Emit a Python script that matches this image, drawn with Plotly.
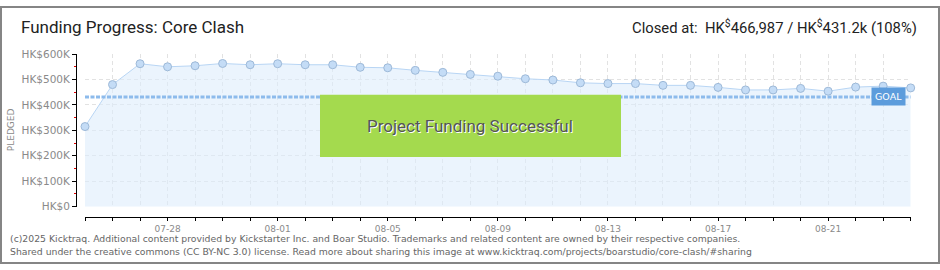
import pandas as pd
import plotly.graph_objects as go

# ---- data ----
dates = pd.date_range("2025-07-25", "2025-08-24", freq="D").strftime("%Y-%m-%d").tolist()
pledged = [315000, 480000, 562000, 550000, 554000, 563000, 558000, 562000, 558000, 558000,
           548000, 546000, 536000, 528000, 520000, 513000, 503000, 498000, 487000, 484000,
           484000, 477000, 477000, 469000, 459000, 459000, 465000, 454000, 470000, 474000,
           466987]
goal = 431200
x_tick_labels = ["07-28", "08-01", "08-05", "08-09", "08-13", "08-17", "08-21"]
y_tick_vals = [0, 100000, 200000, 300000, 400000, 500000, 600000]
y_tick_labels = ["HK$0", "HK$100K", "HK$200K", "HK$300K", "HK$400K", "HK$500K", "HK$600K"]
title_text = "Funding Progress: Core Clash"
closed_text = "Closed at:  HK<sup>$</sup>466,987 / HK<sup>$</sup>431.2k (108%)"

W, H = 940, 270
def px(x):
    return x / W
def py(y):
    return (H - y) / H

x_tick_vals = [d for d in dates if d[5:] in x_tick_labels]
x_tick_text = [d[5:] for d in x_tick_vals]

fig = go.Figure()

# pledged area + line
fig.add_trace(go.Scatter(
    x=dates, y=pledged, mode="lines+markers",
    line=dict(color="#b8d5f4", width=1),
    fill="tozeroy", fillcolor="rgba(222,236,251,0.6)",
    marker=dict(size=8, color="#c4dcf6", line=dict(color="#9db9d8", width=1)),
    cliponaxis=False, hoverinfo="skip", showlegend=False,
))

# goal line
fig.add_trace(go.Scatter(
    x=[dates[0], dates[-1]], y=[goal, goal], mode="lines",
    line=dict(color="#8dbbec", width=3, dash="4px,1.5px"),
    hoverinfo="skip", showlegend=False,
))

grid_style = dict(gridcolor="#e2e2e2", griddash="4px,3px", gridwidth=1)

fig.update_layout(
    width=W, height=H,
    margin=dict(l=0, r=0, t=0, b=0),
    paper_bgcolor="white", plot_bgcolor="white",
    xaxis=dict(
        type="date",
        domain=[px(85), px(910.7)],
        range=[dates[0], dates[-1]],
        anchor="free", position=py(220.7),
        tickmode="array", tickvals=x_tick_vals, ticktext=x_tick_text,
        ticks="outside", ticklen=3, tickcolor="#000", tickwidth=1,
        minor=dict(ticks="outside", ticklen=3, tickcolor="#000", tickwidth=1,
                   dtick=86400000, tick0=dates[0], showgrid=True, **grid_style),
        showline=True, linecolor="#000", linewidth=1,
        showgrid=True, **grid_style,
        zeroline=False, tickfont=dict(family="DejaVu Sans", size=9, color="#8a8a8a"),
    ),
    yaxis=dict(
        domain=[py(210), py(50.3)],
        range=[0, 600000],
        anchor="free", position=px(76),
        tickmode="array", tickvals=y_tick_vals, ticktext=y_tick_labels,
        ticks="outside", ticklen=4, tickcolor="#000", tickwidth=1,
        minor=dict(ticks="outside", ticklen=2, tickcolor="#e00000", dtick=50000, showgrid=False),
        showline=True, linecolor="#000", linewidth=1,
        showgrid=True, **grid_style,
        zeroline=False, tickfont=dict(family="DejaVu Sans", size=10.5, color="#8a8a8a"),
    ),
    font=dict(family="Roboto"),
)

shapes = [
    # success box
    dict(type="rect", xref="paper", yref="paper",
         x0=px(320), x1=px(621), y0=py(158), y1=py(93),
         fillcolor="#a4da4e", line=dict(width=0), layer="above"),
    # frame
    dict(type="rect", xref="paper", yref="paper",
         x0=px(1), x1=px(939), y0=py(269), y1=py(1),
         fillcolor="rgba(0,0,0,0)", line=dict(color="#858585", width=2), layer="above"),
]
fig.update_layout(shapes=shapes)

annotations = [
    dict(text=title_text, xref="paper", yref="paper", x=px(19), y=py(22),
         xanchor="left", yanchor="middle", showarrow=False,
         font=dict(family="Roboto", size=17, color="#222")),
    dict(text=closed_text, xref="paper", yref="paper", x=px(919), y=py(22),
         xanchor="right", yanchor="middle", showarrow=False,
         font=dict(family="Roboto", size=14.8, color="#222")),
    dict(text="PLEDGED", xref="paper", yref="paper", x=px(11), y=py(130),
         xanchor="center", yanchor="middle", textangle=-90, showarrow=False,
         font=dict(family="DejaVu Sans", size=9, color="#8a8a8a")),
    dict(text="Project Funding Successful", xref="paper", yref="paper",
         x=px(470.5), y=py(127), xanchor="center", yanchor="middle", showarrow=False,
         font=dict(family="Roboto", size=17, color="#ffffff")),
    dict(text="Project Funding Successful", xref="paper", yref="paper",
         x=px(469.5), y=py(126), xanchor="center", yanchor="middle", showarrow=False,
         font=dict(family="Roboto", size=17, color="#555555")),
    dict(text="GOAL", xref="paper", yref="paper", x=px(888), y=py(95),
         xanchor="center", yanchor="middle", showarrow=False,
         bgcolor="#5c9cdc", borderpad=3,
         font=dict(family="DejaVu Sans", size=9.5, color="white")),
    dict(text="(c)2025 Kicktraq. Additional content provided by Kickstarter Inc. and Boar Studio. Trademarks and related content are owned by their respective companies.",
         xref="paper", yref="paper", x=px(8), y=py(243.5), xanchor="left", yanchor="middle",
         showarrow=False, font=dict(family="DejaVu Sans", size=9.3, color="#666")),
    dict(text="Shared under the creative commons (CC BY-NC 3.0) license. Read more about sharing this image at www.kicktraq.com/projects/boarstudio/core-clash/#sharing",
         xref="paper", yref="paper", x=px(8), y=py(256.5), xanchor="left", yanchor="middle",
         showarrow=False, font=dict(family="DejaVu Sans", size=9.3, color="#666")),
]
fig.update_layout(annotations=annotations)

fig.write_html("out.html")
